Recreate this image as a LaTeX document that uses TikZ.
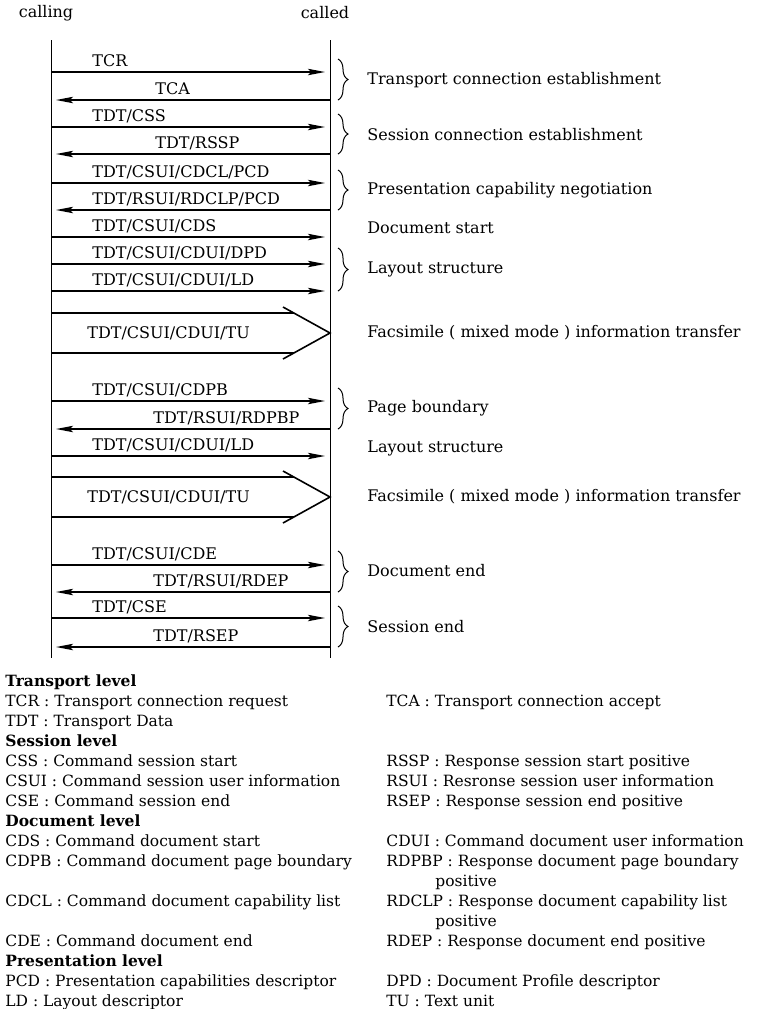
\documentclass[tikz,border=0pt]{standalone}
\usepackage{fontspec}
\setmainfont{DejaVu Serif}
\usetikzlibrary{arrows.meta,calc,decorations.pathreplacing}
\tikzstyle{lbl} = [anchor=south west, inner sep=2.5pt, text depth=0pt, font=\fontsize{8}{9.6}\selectfont]
\tikzstyle{note} = [anchor=west, inner sep=0pt, font=\fontsize{8}{9.6}\selectfont]
\tikzstyle{msg} = [-{Stealth[length=8.5pt,width=3.2pt,inset=1.5pt]}, line width=0.8pt, shorten >=2.5pt]
\tikzstyle{fat} = [line width=0.8pt]
\tikzstyle{life} = [line width=0.5pt]
\tikzstyle{brc} = [decorate, decoration={brace,amplitude=5pt}, line width=0.5pt]
\tikzstyle{legend} = [anchor=north west, inner sep=0pt, align=left, font=\fontsize{7.75}{10}\selectfont]

\begin{document}
\begin{tikzpicture}[x=0.5pt, y=-0.5pt]
  \useasboundingbox (0,0) rectangle (767,1009);
  % the two stations
  \node [note, anchor=center] (calling) at (46,13) {calling};
  \node [note, anchor=center] (called) at (325,13) {called};
  \coordinate (L) at (51,40);
  \coordinate (R) at (330,40);
  \coordinate (Lend) at (51,658);
  \coordinate (Rend) at (330,658);
  \draw [life] (L) -- (Lend);
  \draw [life] (R) -- (Rend);

  % transport and session set-up
  \node [lbl] (tcr) at (87,72) {TCR};
  \draw [msg] (L |- tcr.south) -- (R |- tcr.south);
  \node [lbl] (tca) at (150,100) {TCA};
  \draw [msg] (R |- tca.south) -- (L |- tca.south);
  \node [lbl] (css) at (87,127) {TDT/CSS};
  \draw [msg] (L |- css.south) -- (R |- css.south);
  \node [lbl] (rssp) at (150,154) {TDT/RSSP};
  \draw [msg] (R |- rssp.south) -- (L |- rssp.south);
  \node [lbl] (cdcl) at (87,183) {TDT/CSUI/CDCL/PCD};
  \draw [msg] (L |- cdcl.south) -- (R |- cdcl.south);
  \node [lbl] (rdclp) at (87,210) {TDT/RSUI/RDCLP/PCD};
  \draw [msg] (R |- rdclp.south) -- (L |- rdclp.south);

  % document
  \node [lbl] (cds) at (87,237) {TDT/CSUI/CDS};
  \draw [msg] (L |- cds.south) -- (R |- cds.south);
  \node [lbl] (dpd) at (87,264) {TDT/CSUI/CDUI/DPD};
  \draw [msg] (L |- dpd.south) -- (R |- dpd.south);
  \node [lbl] (ld1) at (87,291) {TDT/CSUI/CDUI/LD};
  \draw [msg] (L |- ld1.south) -- (R |- ld1.south);

  \node [note] (tu1) at (87,333) {TDT/CSUI/CDUI/TU};
  \coordinate (tu1tip) at (R |- tu1.west);
  \draw [fat] ($(tu1tip)+(-47,-26)$) -- (tu1tip) -- ($(tu1tip)+(-47,26)$);
  \draw [fat] ($(L |- tu1tip)+(0,-20)$) -- ($(tu1tip)+(-36,-20)$);
  \draw [fat] ($(L |- tu1tip)+(0,20)$) -- ($(tu1tip)+(-36,20)$);

  \node [lbl] (cdpb) at (87,401) {TDT/CSUI/CDPB};
  \draw [msg] (L |- cdpb.south) -- (R |- cdpb.south);
  \node [lbl] (rdpbp) at (148,429) {TDT/RSUI/RDPBP};
  \draw [msg] (R |- rdpbp.south) -- (L |- rdpbp.south);
  \node [lbl] (ld2) at (87,456) {TDT/CSUI/CDUI/LD};
  \draw [msg] (L |- ld2.south) -- (R |- ld2.south);

  \node [note] (tu2) at (87,497) {TDT/CSUI/CDUI/TU};
  \coordinate (tu2tip) at (R |- tu2.west);
  \draw [fat] ($(tu2tip)+(-47,-26)$) -- (tu2tip) -- ($(tu2tip)+(-47,26)$);
  \draw [fat] ($(L |- tu2tip)+(0,-20)$) -- ($(tu2tip)+(-36,-20)$);
  \draw [fat] ($(L |- tu2tip)+(0,20)$) -- ($(tu2tip)+(-36,20)$);

  % release
  \node [lbl] (cde) at (87,565) {TDT/CSUI/CDE};
  \draw [msg] (L |- cde.south) -- (R |- cde.south);
  \node [lbl] (rdep) at (148,592) {TDT/RSUI/RDEP};
  \draw [msg] (R |- rdep.south) -- (L |- rdep.south);
  \node [lbl] (cse) at (87,618) {TDT/CSE};
  \draw [msg] (L |- cse.south) -- (R |- cse.south);
  \node [lbl] (rsep) at (148,647) {TDT/RSEP};
  \draw [msg] (R |- rsep.south) -- (L |- rsep.south);

  % phases
  \draw [brc] ($(R |- tcr.south)+(8,-13)$) -- ($(R |- tca.south)+(8,0)$);
  \draw [brc] ($(R |- css.south)+(8,-13)$) -- ($(R |- rssp.south)+(8,0)$);
  \draw [brc] ($(R |- cdcl.south)+(8,-13)$) -- ($(R |- rdclp.south)+(8,0)$);
  \draw [brc] ($(R |- dpd.south)+(8,-16)$) -- ($(R |- ld1.south)+(8,0)$);
  \draw [brc] ($(R |- cdpb.south)+(8,-13)$) -- ($(R |- rdpbp.south)+(8,0)$);
  \draw [brc] ($(R |- cde.south)+(8,-14)$) -- ($(R |- rdep.south)+(8,0)$);
  \draw [brc] ($(R |- cse.south)+(8,-12)$) -- ($(R |- rsep.south)+(8,0)$);
  \node [note] (ph1) at (367,80) {Transport connection establishment};
  \node [note] (ph2) at (367,135) {Session connection establishment};
  \node [note] (ph3) at (367,190) {Presentation capability negotiation};
  \node [note] (ph4) at (367,228) {Document start};
  \node [note] (ph5) at (367,269) {Layout structure};
  \node [note] (ph6) at (367,333) {Facsimile ( mixed mode ) information transfer};
  \node [note] (ph7) at (367,408) {Page boundary};
  \node [note] (ph8) at (367,448) {Layout structure};
  \node [note] (ph9) at (367,497) {Facsimile ( mixed mode ) information transfer};
  \node [note] (ph10) at (367,571) {Document end};
  \node [note] (ph11) at (367,627) {Session end};

  % abbreviations
  \node [legend] (legL) at (5,672) {\strut\textbf{Transport level}\\
    TCR : Transport connection request\\
    TDT : Transport Data\\
    \textbf{Session level}\\
    CSS : Command session start\\
    CSUI : Command session user information\\
    CSE : Command session end\\
    \textbf{Document level}\\
    CDS : Command document start\\
    CDPB : Command document page boundary\\
    \strut\\
    CDCL : Command document capability list\\
    \strut\\
    CDE : Command document end\\
    \textbf{Presentation level}\\
    PCD : Presentation capabilities descriptor\\
    LD : Layout descriptor};
  \node [legend] (legR) at (386,672) {\strut\\
    TCA : Transport connection accept\\
    \strut\\
    \strut\\
    RSSP : Response session start positive\\
    RSUI : Resronse session user information\\
    RSEP : Response session end positive\\
    \strut\\
    CDUI : Command document user information\\
    RDPBP : Response document page boundary\\
    \hspace*{24.5pt}positive\\
    RDCLP : Response document capability list\\
    \hspace*{24.5pt}positive\\
    RDEP : Response document end positive\\
    \strut\\
    DPD : Document Profile descriptor\\
    TU : Text unit};
\end{tikzpicture}
\end{document}
